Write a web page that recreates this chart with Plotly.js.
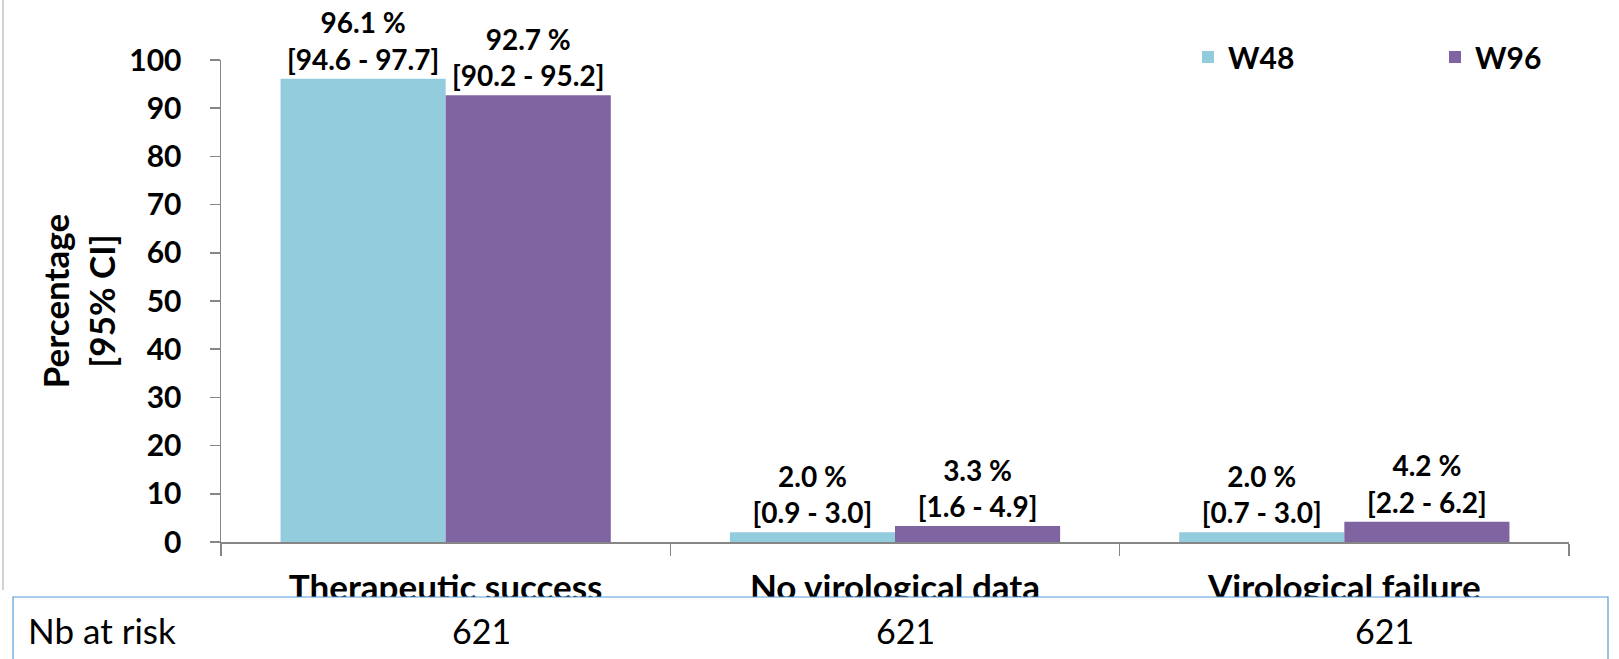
<!DOCTYPE html>
<html>
<head>
<meta charset="utf-8">
<script src="https://cdn.plot.ly/plotly-3.0.1.min.js"></script>
<style>html,body{margin:0;padding:0;background:#fff;}#chart{width:1619px;height:659px;}</style>
</head>
<body>
<div id="chart"></div>
<script>
// ---- data ----
const categories = ['Therapeutic success', 'No virological data', 'Virological failure'];
const seriesNames = ['W48', 'W96'];
const w48Values = [96.1, 2.0, 2.0];
const w96Values = [92.7, 3.3, 4.2];
const w48CI = ['[94.6 - 97.7]', '[0.9 - 3.0]', '[0.7 - 3.0]'];
const w96CI = ['[90.2 - 95.2]', '[1.6 - 4.9]', '[2.2 - 6.2]'];
const yTickValues = [0, 10, 20, 30, 40, 50, 60, 70, 80, 90, 100];
const tableRowLabel = 'Nb at risk';
const nbAtRisk = [621, 621, 621];

// ---- styles ----
const FONT = 'Lato, "Open Sans", sans-serif';
const colors = ['#93CDDD', '#8064A2'];

function labels(vals, ci) {
  return vals.map((v, i) => v.toFixed(1) + ' %<br>' + ci[i]);
}

const traces = [
  {type: 'bar', name: seriesNames[0], x: categories, y: w48Values,
   marker: {color: colors[0]}, text: labels(w48Values, w48CI),
   textposition: 'outside', cliponaxis: false, constraintext: 'none',
   textfont: {family: FONT, size: 28, color: '#000', weight: 700},
   hoverinfo: 'x+y'},
  {type: 'bar', name: seriesNames[1], x: categories, y: w96Values,
   marker: {color: colors[1]}, text: labels(w96Values, w96CI),
   textposition: 'outside', cliponaxis: false, constraintext: 'none',
   textfont: {family: FONT, size: 28, color: '#000', weight: 700},
   hoverinfo: 'x+y'}
];

// pixel -> paper helpers (plot area: x 221..1569, y 60..542)
const L = 221, R = 1569, T = 60, B = 542;
const px = p => (p - L) / (R - L);
const py = p => (B - p) / (B - T);

const tableCenters = [481, 905, 1384];
const annotations = [
  {xref: 'paper', yref: 'paper', x: px(26), y: py(630), xanchor: 'left', yanchor: 'middle',
   text: tableRowLabel, showarrow: false, font: {family: FONT, size: 35, color: '#000'}}
].concat(nbAtRisk.map((n, i) => ({
  xref: 'paper', yref: 'paper', x: px(tableCenters[i]), y: py(630), xanchor: 'center', yanchor: 'middle',
  text: String(n), showarrow: false, font: {family: FONT, size: 34, color: '#000'}
})));

const shapes = [
  // thin grey frame line on the left
  {type: 'line', xref: 'paper', yref: 'paper', x0: px(3), x1: px(3), y0: py(0), y1: py(590),
   line: {color: '#A6A6A6', width: 1}, layer: 'above'},
  // table box
  {type: 'rect', xref: 'paper', yref: 'paper', x0: px(13), x1: px(1608), y0: py(597), y1: py(700),
   line: {color: '#5B9BD5', width: 1.2}, fillcolor: '#ffffff', layer: 'above'}
];

const layout = {
  width: 1619, height: 659,
  margin: {l: L, r: 1619 - R, t: T, b: 659 - B, pad: 0, autoexpand: false},
  paper_bgcolor: '#fff', plot_bgcolor: '#fff',
  barmode: 'group', bargap: 0.265, bargroupgap: 0,
  font: {family: FONT, color: '#000'},
  showlegend: true,
  legend: {orientation: 'h', x: px(1188), y: py(57), xanchor: 'left', yanchor: 'middle',
           entrywidth: 202, entrywidthmode: 'pixels', traceorder: 'normal',
           font: {family: FONT, size: 30, color: '#000', weight: 700}, bgcolor: 'rgba(0,0,0,0)'},
  xaxis: {type: 'category', showgrid: false, zeroline: false, showline: true, linecolor: '#868686', linewidth: 1.5,
          ticks: 'outside', tickson: 'boundaries', ticklen: 12, tickcolor: '#868686', tickwidth: 1.5,
          tickfont: {family: FONT, size: 35, color: '#000', weight: 700}, ticklabelstandoff: 14,
          automargin: false, fixedrange: true},
  yaxis: {range: [0, 100], tickvals: yTickValues, ticktext: yTickValues.map(String),
          showgrid: false, zeroline: false, showline: true, linecolor: '#868686', linewidth: 1.5,
          ticks: 'outside', ticklen: 10, tickcolor: '#868686', tickwidth: 1.5,
          tickfont: {family: FONT, size: 30, color: '#000', weight: 700}, ticklabelstandoff: 22,
          title: {text: 'Percentage<br>[95% CI]', standoff: 3,
                  font: {family: FONT, size: 35, color: '#000', weight: 700}},
          automargin: true, fixedrange: true},
  annotations: annotations,
  shapes: shapes
};

Plotly.newPlot('chart', traces, layout, {displayModeBar: false, staticPlot: true});
</script>
</body>
</html>
